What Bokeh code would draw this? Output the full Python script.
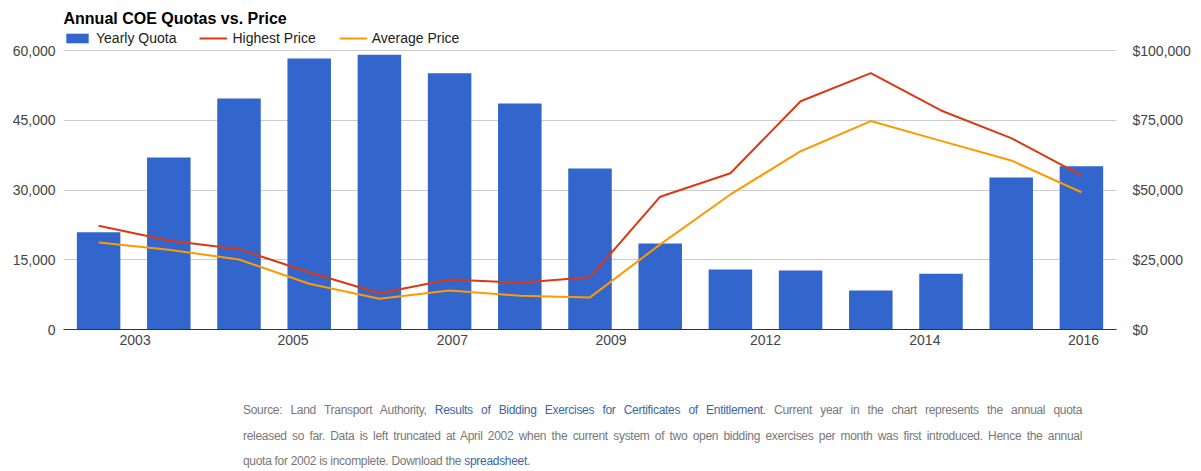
from bokeh.plotting import figure
from bokeh.models import (Range1d, LinearAxis, FixedTicker, NumeralTickFormatter, Legend,
                          LegendItem, Div, CustomJSTickFormatter, Label)
from bokeh.layouts import column
from bokeh.embed import file_html
from bokeh.resources import INLINE

# ---- data ----
years = [2002, 2003, 2004, 2005, 2006, 2007, 2008, 2009, 2010, 2011, 2012, 2013, 2014, 2015, 2016]
quota = [20900, 37000, 49700, 58300, 59100, 55100, 48600, 34600, 18500, 12900, 12700, 8400, 12000, 32700, 35100]
highest_price = [37200, 31900, 28800, 20500, 13000, 17900, 16800, 18700, 47600, 56000, 81800, 91900, 78500, 68600, 55200]
average_price = [31200, 28600, 25100, 16400, 11000, 14000, 12100, 11500, 30500, 48400, 63900, 74700, 67600, 60600, 49200]
x_tick_positions = [2002.52, 2004.77, 2007.04, 2009.3, 2011.5, 2013.77, 2016.03]
x_tick_labels = ["2003", "2005", "2007", "2009", "2012", "2014", "2016"]
quota_ticks = [0, 15000, 30000, 45000, 60000]
price_ticks = [0, 25000, 50000, 75000, 100000]
quota_max = 60000
price_max = 100000

FONT = "Liberation Sans"
BLUE = "#3366cc"
RED = "#dc3912"
ORANGE = "#ff9900"

# plot frame spans the full height above the x axis; the gridded part (0..max) is the lower 279px
FRAME_H = 329
GRID_H = 279
ext = FRAME_H / GRID_H

p = figure(width=1193, height=388, title=None,
           x_range=Range1d(2001.5, 2016.5), y_range=Range1d(0, quota_max * ext),
           output_backend="svg", toolbar_location=None,
           min_border_left=63, min_border_right=76, min_border_top=0, min_border_bottom=59)
p.outline_line_color = None
p.extra_y_ranges = {"price": Range1d(0, price_max * ext)}

bars = p.vbar(x=years, top=quota, width=0.62, color=BLUE, line_color=None)
l_high = p.line(years, highest_price, y_range_name="price", line_color=RED, line_width=2)
l_avg = p.line(years, average_price, y_range_name="price", line_color=ORANGE, line_width=2)

# grid
p.xgrid.visible = False
p.ygrid.ticker = FixedTicker(ticks=quota_ticks)
p.ygrid.grid_line_color = "#cccccc"

# x axis
xa = p.xaxis[0]
xa.ticker = FixedTicker(ticks=x_tick_positions)
xa.formatter = CustomJSTickFormatter(args=dict(pos=x_tick_positions, labels=x_tick_labels), code="""
    let best = 0, bd = 1e9;
    for (let i = 0; i < pos.length; i++) { const d = Math.abs(pos[i] - tick); if (d < bd) { bd = d; best = i; } }
    return labels[best];
""")
xa.axis_line_color = "#333333"
xa.major_tick_line_color = None
xa.minor_tick_line_color = None
xa.major_tick_out = 0
xa.major_label_standoff = 5
xa.major_label_text_font = FONT
xa.major_label_text_font_size = "14px"
xa.major_label_text_color = "#444444"

# left axis
ya = p.yaxis[0]
ya.ticker = FixedTicker(ticks=quota_ticks)
ya.formatter = NumeralTickFormatter(format="0,0")
ya.axis_line_color = None
ya.major_tick_line_color = None
ya.minor_tick_line_color = None
ya.major_tick_out = 0
ya.major_label_standoff = 8
ya.major_label_text_font = FONT
ya.major_label_text_font_size = "14px"
ya.major_label_text_color = "#444444"

# right axis
ra = LinearAxis(y_range_name="price", ticker=FixedTicker(ticks=price_ticks),
                formatter=NumeralTickFormatter(format="$0,0"))
ra.axis_line_color = None
ra.major_tick_line_color = None
ra.minor_tick_line_color = None
ra.major_tick_out = 0
ra.major_label_standoff = 16
ra.major_label_text_font = FONT
ra.major_label_text_font_size = "14px"
ra.major_label_text_color = "#444444"
p.add_layout(ra, "right")

legend = Legend(items=[LegendItem(label="Yearly Quota", renderers=[bars]),
                       LegendItem(label="Highest Price", renderers=[l_high]),
                       LegendItem(label="Average Price", renderers=[l_avg])],
                orientation="horizontal", location=(0, 283),
                glyph_width=28, glyph_height=12, label_standoff=5, spacing=23,
                padding=0, margin=0, border_line_color=None, background_fill_alpha=0,
                label_text_font=FONT, label_text_font_size="14px", label_text_color="#222222")
p.add_layout(legend)

title = Label(x=0, y=311, x_units="screen", y_units="screen", text="Annual COE Quotas vs. Price",
              text_font=FONT, text_font_size="16px", text_font_style="bold", text_color="#000000",
              text_baseline="middle", text_align="left")
p.add_layout(title)

LINK = "#3b66a8"
base = "font-family:'Liberation Sans',Arial,sans-serif;font-size:12px;color:#777777;letter-spacing:-0.3px;"
line1 = ('Source: Land Transport Authority, <span style="color:%s">Results of Bidding Exercises for '
         'Certificates of Entitlement</span>. Current year in the chart represents the annual quota') % LINK
line2 = ('released so far. Data is left truncated at April 2002 when the current system of two open '
         'bidding exercises per month was first introduced. Hence the annual')
line3 = 'quota for 2002 is incomplete. Download the <span style="color:%s">spreadsheet</span>.' % LINK
html = (
    '<div style="%s padding-top:10px;width:839px;">' % base +
    '<div style="text-align:justify;text-align-last:justify;line-height:25.5px;height:25.5px;">%s</div>' % line1 +
    '<div style="text-align:justify;text-align-last:justify;line-height:25.5px;height:25.5px;">%s</div>' % line2 +
    '<div style="text-align:left;line-height:2px;height:2px;margin-top:11px;">%s</div>' % line3 +
    '</div>'
)
note = Div(text=html, width=839, height=75, margin=(0, 0, 0, 243))

layout = column(p, note, spacing=0)
open("out.html", "w").write(file_html(layout, INLINE))
